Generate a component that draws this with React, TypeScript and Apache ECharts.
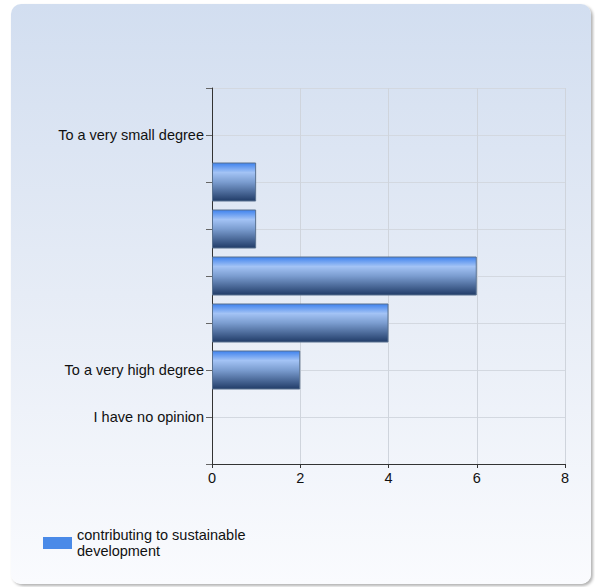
import React, { useEffect, useRef } from "react";
import * as echarts from "echarts";

const seriesName = "contributing to sustainable development";
const categoryLabels = [
  "To a very small degree",
  "",
  "",
  "",
  "",
  "To a very high degree",
  "I have no opinion",
];
const values = [0, 1, 1, 6, 4, 2, 0];
const xTicks = [0, 2, 4, 6, 8];

export default function App() {
  const ref = useRef<HTMLDivElement>(null);
  useEffect(() => {
    if (!ref.current) return;
    const chart = echarts.init(ref.current, null, { renderer: "svg" });
    const padded = ["", ...categoryLabels, ""];
    const keys = padded.map((_, i) => "c" + i);
    const data = ["-", ...values.map((v) => (v === 0 ? "-" : v)), "-"];
    const font = "Arial, 'Liberation Sans', sans-serif";
    chart.setOption({
      animation: false,
      backgroundColor: "transparent",
      grid: { left: 212, right: 30, top: 88, bottom: 123, containLabel: false },
      xAxis: {
        type: "value",
        min: xTicks[0],
        max: xTicks[xTicks.length - 1],
        interval: 2,
        axisLine: { show: true, lineStyle: { color: "#333", width: 1 } },
        axisTick: { show: true, length: 4, lineStyle: { color: "#333" } },
        axisLabel: { color: "#111", fontSize: 14.5, fontFamily: font, margin: 6 },
        splitLine: { show: true, lineStyle: { color: "#cfd4dc", width: 1 } },
      },
      yAxis: {
        type: "category",
        inverse: true,
        boundaryGap: false,
        data: keys,
        axisLine: { show: true, lineStyle: { color: "#333", width: 1 } },
        axisTick: { show: true, length: 6, lineStyle: { color: "#666" } },
        axisLabel: {
          color: "#111",
          fontSize: 14.5,
          fontFamily: font,
          margin: 8,
          interval: 0,
          formatter: (_v: string, i: number) => padded[i],
        },
        splitLine: { show: true, interval: 0, lineStyle: { color: "#d3d8e0", width: 1 } },
      },
      legend: {
        left: 38,
        top: 522,
        orient: "vertical",
        icon: "rect",
        itemWidth: 29,
        itemHeight: 12,
        itemGap: 5,
        textStyle: { color: "#111", fontSize: 14.5, fontFamily: font, lineHeight: 16 },
        formatter: () => "contributing to sustainable\ndevelopment",
        itemStyle: { color: "#4a8ae8", borderWidth: 0 },
        data: [{ name: seriesName, itemStyle: { color: "#4a8ae8" } }],
      },
      series: [
        {
          type: "bar",
          name: seriesName,
          data,
          barWidth: 39,
          itemStyle: {
            color: new echarts.graphic.LinearGradient(0, 0, 0, 1, [
              { offset: 0, color: "#3e82ee" },
              { offset: 0.25, color: "#a3c3f5" },
              { offset: 0.5, color: "#7b9dd0" },
              { offset: 1, color: "#213c68" },
            ]),
            borderColor: "#58708f",
            borderWidth: 1,
          },
        },
      ],
    });
    return () => chart.dispose();
  }, []);
  return (
    <div style={{ position: "fixed", left: 0, top: 0, width: 595, height: 587, background: "#fff" }}>
      <div
        style={{
          position: "absolute",
          left: 11,
          top: 4,
          width: 580,
          height: 580,
          borderRadius: 10,
          background: "linear-gradient(to bottom, #d2def0 0%, #e6ecf6 50%, #fafbfe 100%)",
          boxShadow: "2px 2px 3px rgba(0,0,0,0.3)",
        }}
      />
      <div ref={ref} style={{ position: "absolute", left: 0, top: 0, width: 595, height: 587 }} />
    </div>
  );
}
